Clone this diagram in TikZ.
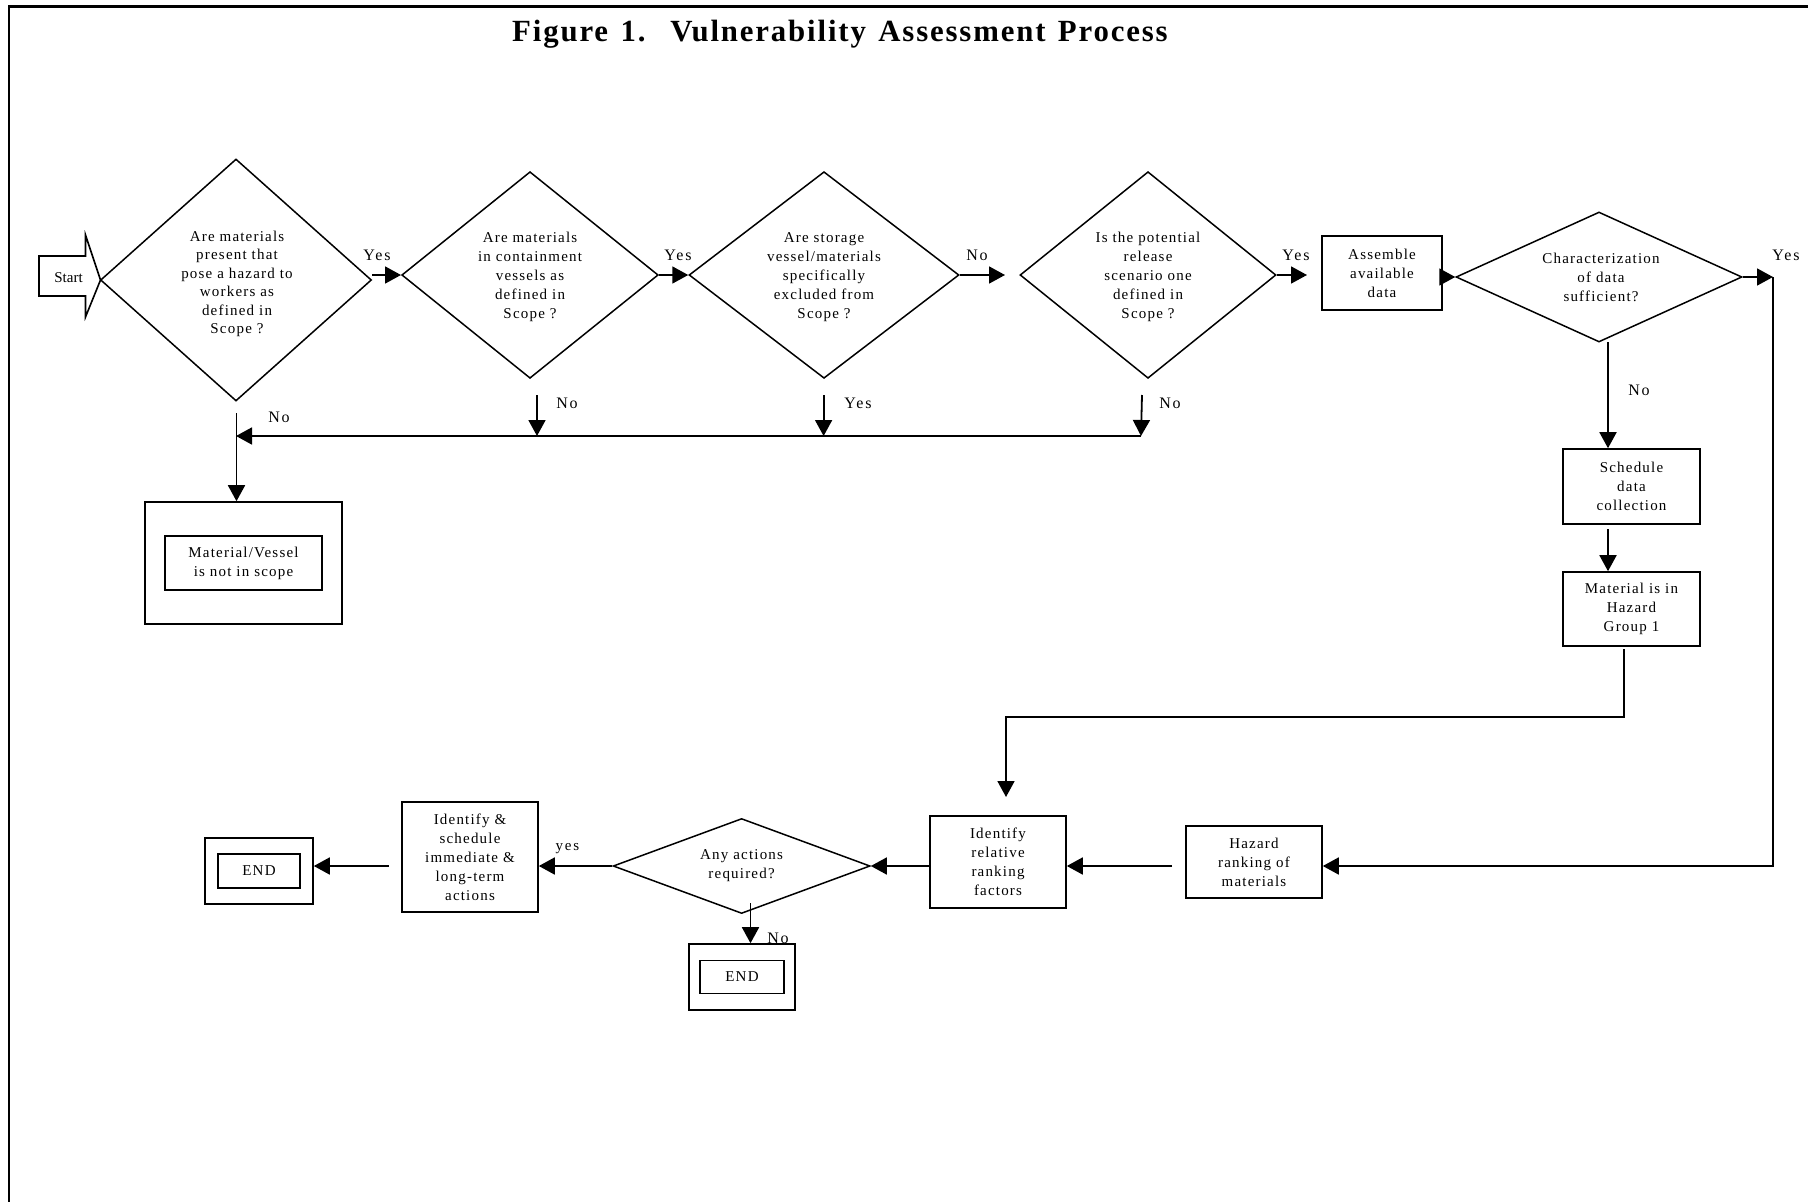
\documentclass[tikz,border=0pt]{standalone}
\usepackage{fontspec}
\newfontfamily\dfont{Liberation Serif}[LetterSpace=8]
\newfontfamily\lfont{Liberation Serif}[LetterSpace=12]
\newfontfamily\tfont{Liberation Serif}[LetterSpace=6,WordSpace=1.3]
\usetikzlibrary{shapes.geometric,arrows.meta,calc}
\tikzset{
  dia/.style={draw, diamond, line width=1.5pt, inner sep=0pt},
  box/.style={draw, line width=1.6pt, inner sep=0pt, align=center,
    font=\dfont\fontsize{15}{19}\selectfont},
  txt/.style={align=center, inner sep=0pt, font=\dfont\fontsize{15}{19}\selectfont},
  lbl/.style={inner sep=0pt, font=\lfont\fontsize{16}{18}\selectfont},
  conn/.style={line width=1.8pt, -{Triangle[length=16pt,width=17pt]}},
}
\begin{document}
\begin{tikzpicture}[x=1pt,y=-1pt]
\useasboundingbox (0,0) rectangle (1808,1202);
% frame
\draw[line width=2.2pt] (9,1202) -- (9,6.5) -- (1808,6.5);
% title
\node[inner sep=0pt, anchor=base west, font=\tfont\bfseries\fontsize{30.8}{34}\selectfont] (title) at (512,41) {Figure 1.~~Vulnerability Assessment Process};
% start arrow
\draw[line width=1.6pt] (39,256) -- (85.5,256) -- (85.5,235) -- (100.5,280) -- (85.5,317) -- (85.5,296) -- (39,296) -- cycle;
\node[inner sep=0pt, font=\fontspec{Liberation Serif}\fontsize{15}{18}\selectfont] (start) at (68.5,277.5) {Start};
% diamonds
\node[dia, minimum width=271pt, minimum height=242pt] (d1) at (236,280) {};
\node[txt, font=\dfont\fontsize{15}{18.5}\selectfont] (d1t) at (237,284) {Are materials\\present that\\pose a hazard to\\workers as\\defined in\\Scope ?};
\node[dia, minimum width=256.5pt, minimum height=206.6pt] (d2) at (530,275) {};
\node[txt] (d2t) at (530,277) {Are materials\\in containment\\vessels as\\defined in\\Scope ?};
\node[dia, minimum width=270pt, minimum height=206.6pt] (d3) at (824,275) {};
\node[txt] (d3t) at (824,277) {Are storage\\vessel/materials\\specifically\\excluded from\\Scope ?};
\node[dia, minimum width=256pt, minimum height=206.6pt] (d4) at (1148,275) {};
\node[txt] (d4t) at (1148,277) {Is the potential\\release\\scenario one\\defined in\\Scope ?};
\node[dia, minimum width=286pt, minimum height=130pt] (d5) at (1599,277) {};
\node[txt] (d5t) at (1601,277) {Characterization\\of data\\sufficient?};
\node[dia, minimum width=257pt, minimum height=95pt] (d6) at (741.6,866) {};
\node[txt] (d6t) at (741.6,866) {Any actions\\required?};
% boxes
\node[box, minimum width=120pt, minimum height=74pt] (assemble) at (1382,273) {Assemble\\available\\data};
\node[box, minimum width=137pt, minimum height=75pt] (schedule) at (1631.5,486.5) {Schedule\\data\\collection};
\node[box, minimum width=137pt, minimum height=74pt] (material) at (1631.5,609) {Material is in\\Hazard\\Group 1};
\node[box, minimum width=136pt, minimum height=92pt] (idrel) at (998,862) {Identify\\relative\\ranking\\factors};
\node[box, minimum width=136pt, minimum height=72pt] (hazard) at (1254,862) {Hazard\\ranking of\\materials};
\node[box, minimum width=136pt, minimum height=110pt] (idsched) at (470,857) {Identify \&\\schedule\\immediate \&\\long-term\\actions};
\node[box, minimum width=108pt, minimum height=66pt] (end1) at (259,871) {};
\node[box, minimum width=82pt, minimum height=34pt] (end1i) at (end1) {END};
\node[box, minimum width=106pt, minimum height=66pt] (end2) at (742,977) {};
\node[box, minimum width=84pt, minimum height=33pt] (end2i) at (end2) {END};
\node[box, minimum width=197pt, minimum height=122pt] (notscope) at (243.5,563) {};
\node[box, minimum width=156.5pt, minimum height=54pt] (notscopei) at (notscope) {Material/Vessel\\is not in scope};
% coordinates
\coordinate (c3) at (1005,275);
\coordinate (c4) at (1307,275);
\coordinate (c5) at (1773,277);
\coordinate (c6) at (1773,866);
\coordinate (c7) at (1172,866);
\coordinate (c8) at (388.5,866);
\coordinate (c9) at (750.5,903);
\coordinate (c10) at (1624,649);
\coordinate (c11) at (1006,717);
\coordinate (c12) at (1006,797);
\coordinate (c13) at (1608,529);
\coordinate (c14) at (1608,342);
\coordinate (n2) at (537,395);
\coordinate (n3) at (823.6,395);
\coordinate (n4) at (1142,395);
\coordinate (hr) at (1141,436);
\coordinate (hl) at (236,436);
\coordinate (v1) at (236.5,413);
% connectors top row
\draw[conn] (d1.east |- d2.west) -- (d2.west);
\draw[conn] (d2.east) -- (d3.west);
\draw[conn] (d3.east) -- (c3);
\draw[conn] (d4.east) -- (c4);
\draw[conn] (assemble.east |- d5.west) -- (d5.west);
\draw[conn] (d5.east) -- (c5);
\draw[conn] (c5) -- (c6) -- (c6 -| hazard.east);
\draw[conn] (c14) -- (c14 |- schedule.north);
\draw[conn] (c13) -- (c13 |- material.north);
\draw[conn] (c10) |- (c11) -- (c12);
\draw[conn] (c7) -- (c7 -| idrel.east);
\draw[conn] (idrel.west |- d6.east) -- (d6.east);
\draw[conn] (d6.west) -- (d6.west -| idsched.east);
\draw[conn] (c8) -- (c8 -| end1.east);
\draw[conn] (c9) -- (c9 |- end2.north);
% down arrows to common line
\draw[conn] (n2) -- (n2 |- hr);
\draw[conn] (n3) -- (n3 |- hr);
\draw[conn] (n4) -- (hr);
\draw[conn] (hr) -- (hl);
\draw[conn] (v1) -- (v1 |- notscope.north);
% labels
\node[lbl] (y1) at (377,255) {Yes};
\node[lbl] (y2) at (678,255) {Yes};
\node[lbl] (no3) at (977,255) {No};
\node[lbl] (y4) at (1296,255) {Yes};
\node[lbl] (y5) at (1786,255) {Yes};
\node[lbl] (no5) at (1639,390) {No};
\node[lbl] (no1) at (279,417) {No};
\node[lbl] (no2) at (567,403) {No};
\node[lbl] (y3) at (858,403) {Yes};
\node[lbl] (no4) at (1170,403) {No};
\node[lbl, font=\lfont\fontsize{15}{17}\selectfont] (y6) at (567.5,849) {yes};
\node[lbl] (no6) at (778,938) {No};
\end{tikzpicture}
\end{document}
